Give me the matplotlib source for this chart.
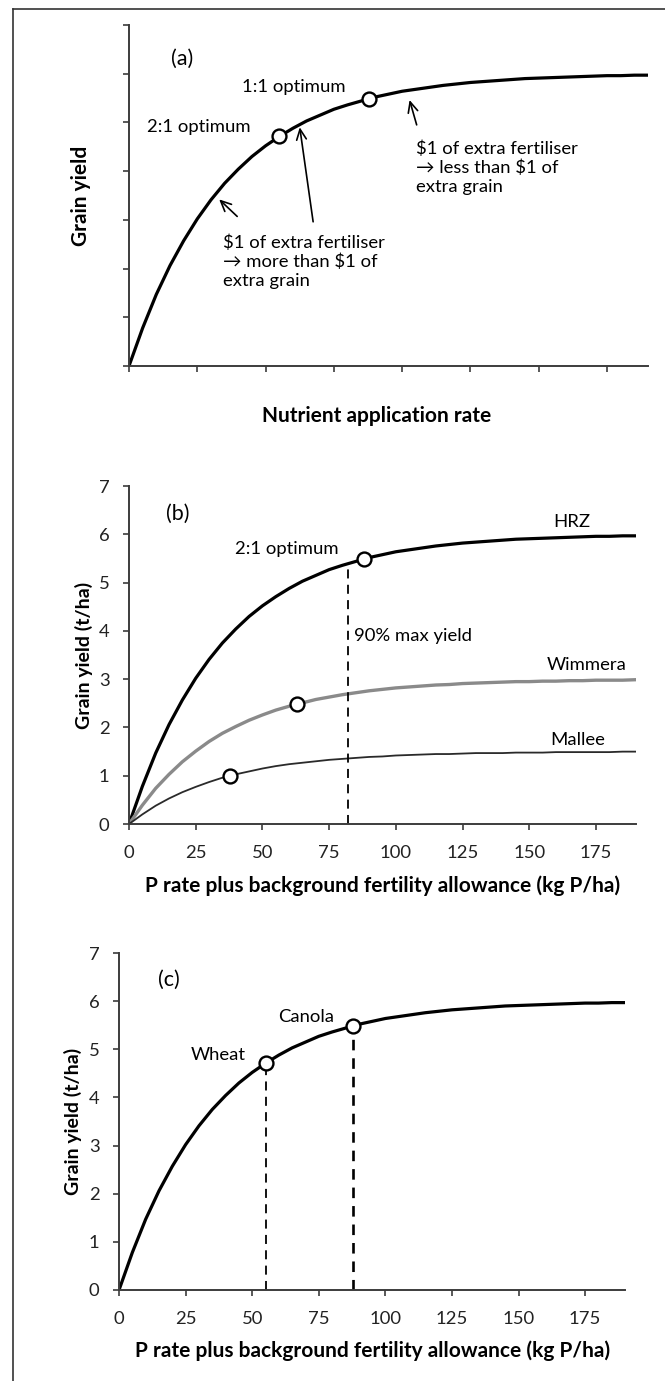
import matplotlib.pyplot as plt
from matplotlib.lines import Line2D

plt.rcParams['font.family'] = ['Lato', 'DejaVu Sans']

# P rate plus background fertility (kg P/ha) and the yield response curves (t/ha)
rate = [0, 5, 10, 15, 20, 25, 30, 35, 40, 45, 50, 55, 60, 65, 70, 75, 80, 85, 90, 95,
        100, 105, 110, 115, 120, 125, 130, 135, 140, 145, 150, 155, 160, 165, 170,
        175, 180, 185, 190]
hrz = [0.00, 0.78, 1.47, 2.06, 2.57, 3.02, 3.41, 3.75, 4.04, 4.30, 4.52, 4.71, 4.88,
       5.03, 5.15, 5.27, 5.36, 5.44, 5.52, 5.58, 5.64, 5.68, 5.72, 5.76, 5.79, 5.82,
       5.84, 5.86, 5.88, 5.90, 5.91, 5.92, 5.93, 5.94, 5.95, 5.96, 5.96, 5.97, 5.97]
wimmera = [0.00, 0.39, 0.74, 1.03, 1.29, 1.51, 1.71, 1.88, 2.02, 2.15, 2.26, 2.36, 2.44,
           2.51, 2.58, 2.63, 2.68, 2.72, 2.76, 2.79, 2.82, 2.84, 2.86, 2.88, 2.89, 2.91,
           2.92, 2.93, 2.94, 2.95, 2.95, 2.96, 2.96, 2.97, 2.97, 2.98, 2.98, 2.98, 2.99]
mallee = [0.00, 0.20, 0.38, 0.53, 0.66, 0.77, 0.87, 0.96, 1.03, 1.09, 1.15, 1.20, 1.24,
          1.27, 1.30, 1.33, 1.35, 1.37, 1.39, 1.40, 1.42, 1.43, 1.44, 1.45, 1.45, 1.46,
          1.47, 1.47, 1.47, 1.48, 1.48, 1.48, 1.49, 1.49, 1.49, 1.49, 1.49, 1.50, 1.50]

# optimum points (2:1 and 1:1 in panel a)
opt_rate = [55, 88]
opt_yield = [4.72, 5.49]

# 2:1 optimum for each region in panel b
region_names = ['HRZ', 'Wimmera', 'Mallee']
region_opt_rate = [88, 63, 38]
region_opt_yield = [5.49, 2.48, 1.00]
max_yield_90 = 5.4
max_yield_90_rate = 82

# crop optimum in panel c
crops = ['Wheat', 'Canola']
crop_rate = [55, 88]
crop_yield = [4.71, 5.49]

x_ticks = [0, 25, 50, 75, 100, 125, 150, 175]
y_ticks = [0, 1, 2, 3, 4, 5, 6, 7]

axis_col = '#3c3c3c'
txt = 13.3
letter = 15.5
lab = 15


def style_axes(ax, labels=True):
    ax.set_xlim(0, 190)
    ax.set_ylim(0, 7)
    ax.set_xticks(x_ticks)
    ax.set_yticks(y_ticks)
    for s in ['top', 'right']:
        ax.spines[s].set_visible(False)
    for s in ['left', 'bottom']:
        ax.spines[s].set_color(axis_col)
        ax.spines[s].set_linewidth(1.4)
    ax.tick_params(axis='both', colors=axis_col, width=1.2, length=4.5,
                   labelcolor='#222222', labelsize=13.3)
    ax.tick_params(axis='x', pad=10.5)
    ax.tick_params(axis='y', pad=9.5)
    if not labels:
        ax.set_xticklabels([])
        ax.set_yticklabels([])


def open_marker(ax, x, y):
    ax.plot(x, y, 'o', ms=10, mfc='white', mec='black', mew=1.7, zorder=5)


fig = plt.figure(figsize=(6.65, 13.81), dpi=100)

# (a) generic response curve
ax1 = fig.add_axes([0.194, 0.735, 0.7805, 0.2469])
style_axes(ax1, labels=False)
ax1.plot(rate, hrz, color='black', lw=2.3)
open_marker(ax1, opt_rate, opt_yield)
ax1.text(15.3, 6.30, '(a)', fontsize=letter, va='center')
ax1.text(41.2, 5.735, '1:1 optimum', fontsize=txt, va='center')
ax1.text(6.45, 4.91, '2:1 optimum', fontsize=txt, va='center')
arrow = dict(arrowstyle='->,head_length=0.75,head_width=0.35', lw=1.2, color='black',
             shrinkA=0, shrinkB=0)
ax1.annotate('', xy=(102.7, 5.46), xytext=(105.3, 4.95), arrowprops=arrow)
ax1.annotate('', xy=(62.5, 4.90), xytext=(67.4, 2.96), arrowprops=arrow)
ax1.annotate('', xy=(33.0, 3.42), xytext=(39.6, 3.07), arrowprops=arrow)
ax1.text(105.0, 4.07, '$1 of extra fertiliser\n\u2192 less than $1 of\nextra grain',
         fontsize=txt, va='center', linespacing=1.2)
ax1.text(34.3, 2.146, '$1 of extra fertiliser\n\u2192 more than $1 of\nextra grain',
         fontsize=txt, va='center', linespacing=1.2)
ax1.set_xlabel('Nutrient application rate', fontsize=lab, fontweight='bold')
ax1.set_ylabel('Grain yield', fontsize=lab, fontweight='bold')
ax1.xaxis.set_label_coords(0.478, -0.118)
ax1.yaxis.set_label_coords(-0.073, 0.5)

# (b) regions
ax2 = fig.add_axes([0.194, 0.4033, 0.7624, 0.2447])
style_axes(ax2)
ax2.plot(rate, hrz, color='black', lw=2.3)
ax2.plot(rate, wimmera, color='#8a8a8a', lw=2.4)
ax2.plot(rate, mallee, color='#2a2a2a', lw=1.3)
ax2.plot([max_yield_90_rate, max_yield_90_rate], [0, max_yield_90], color='black',
         lw=1.3, ls=(0, (5, 3.5)))
open_marker(ax2, region_opt_rate, region_opt_yield)
ax2.text(13.8, 6.43, '(b)', fontsize=letter, va='center')
ax2.text(39.8, 5.70, '2:1 optimum', fontsize=txt, va='center')
ax2.text(84.5, 3.89, '90% max yield', fontsize=txt, va='center')
name_x = [166, 171.5, 168]
name_y = [6.25, 3.30, 1.74]
for name, nx, ny in zip(region_names, name_x, name_y):
    ax2.text(nx, ny, name, fontsize=txt, ha='center', va='center')
ax2.set_xlabel('P rate plus background fertility allowance (kg P/ha)', fontsize=lab,
               fontweight='bold')
ax2.set_ylabel('Grain yield (t/ha)', fontsize=14, fontweight='bold')
ax2.xaxis.set_label_coords(0.5, -0.151)
ax2.yaxis.set_label_coords(-0.0715, 0.5)

# (c) crops
ax3 = fig.add_axes([0.179, 0.0659, 0.761, 0.244])
style_axes(ax3)
ax3.plot(rate, hrz, color='black', lw=2.3)
ax3.plot([crop_rate[0]] * 2, [0, crop_yield[0]], color='black', lw=1.3, ls=(0, (5, 3.5)))
ax3.plot([crop_rate[1]] * 2, [0, crop_yield[1]], color='black', lw=1.9, ls=(0, (4, 3)))
open_marker(ax3, crop_rate, crop_yield)
ax3.text(14.6, 6.44, '(c)', fontsize=letter, va='center')
ax3.text(27, 4.89, crops[0], fontsize=txt, va='center')
ax3.text(59.9, 5.68, crops[1], fontsize=txt, va='center')
ax3.set_xlabel('P rate plus background fertility allowance (kg P/ha)', fontsize=lab,
               fontweight='bold')
ax3.set_ylabel('Grain yield (t/ha)', fontsize=14, fontweight='bold')
ax3.xaxis.set_label_coords(0.5, -0.151)
ax3.yaxis.set_label_coords(-0.0737, 0.5)

# frame lines on top and left of the figure
fx = 12.7 / 665
fy = 1 - 9 / 1381
fig.add_artist(Line2D([fx, 1], [fy, fy], transform=fig.transFigure, color='#333333', lw=1.2))
fig.add_artist(Line2D([fx, fx], [0, fy], transform=fig.transFigure, color='#333333', lw=1.2))

fig.savefig('out.png', dpi=100)
